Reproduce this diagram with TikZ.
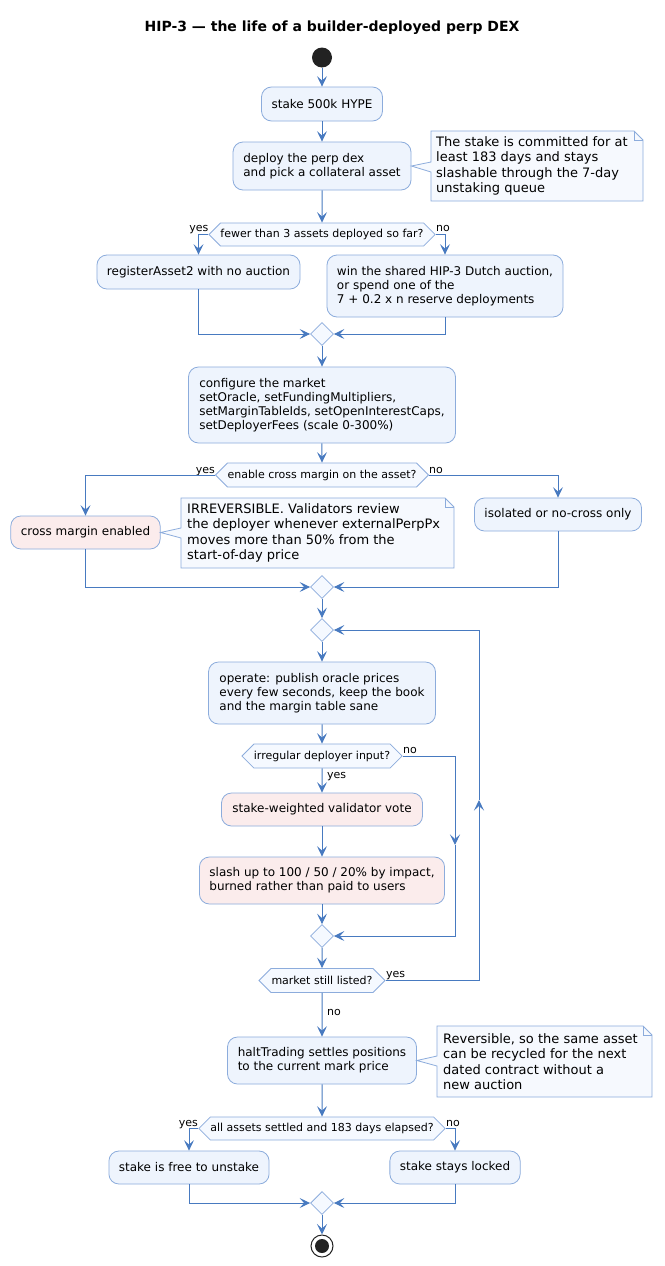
\documentclass[tikz,border=0pt]{standalone}
\usepackage{fontspec}
\setmainfont{DejaVu Sans}
\usetikzlibrary{arrows.meta,shapes.geometric,shapes.symbols}
\definecolor{arrc}{RGB}{72,122,192}
\definecolor{bbord}{RGB}{140,172,220}
\definecolor{bfill}{RGB}{238,244,253}
\definecolor{pfill}{RGB}{251,236,236}
\definecolor{nfill}{RGB}{246,249,254}
\definecolor{hfill}{RGB}{245,249,255}
\definecolor{dotc}{RGB}{34,34,34}
\tikzset{
  box/.style={draw=bbord, fill=bfill, line width=0.8pt, rounded corners=10pt,
    align=left, inner xsep=10pt, inner ysep=0pt, font=\fontsize{12}{14}\selectfont},
  pinkbox/.style={box, fill=pfill},
  hexa/.style={signal, signal to=west and east, draw=bbord, fill=hfill, line width=0.8pt,
    inner xsep=0pt, inner ysep=0pt, font=\fontsize{11}{13}\selectfont},
  merge/.style={diamond, draw=bbord, fill=hfill, line width=0.8pt, inner sep=0pt,
    minimum width=23pt, minimum height=23pt},
  arr/.style={draw=arrc, line width=1pt, -{Stealth[length=10.5pt,width=10pt,inset=4.5pt]}},
  notebg/.style={draw=bbord, fill=nfill, line width=0.8pt},
  notetxt/.style={align=left, inner sep=0pt, font=\fontsize{13}{15.3}\selectfont},
  lbl/.style={inner sep=0pt, font=\fontsize{11}{13}\selectfont},
}
\begin{document}
\begin{tikzpicture}[x=1pt,y=-1pt]
\useasboundingbox[fill=white] (0,0) rectangle (664,1266);

\node[font=\bfseries\fontsize{14}{16}\selectfont] (title) at (332,28) {HIP-3 — the life of a builder-deployed perp DEX};

\node[circle, fill=dotc, minimum size=20pt, inner sep=0pt] (start) at (322,57.5) {};
\node[box, minimum width=121pt, minimum height=34pt] (A) at (322,104) {stake 500k HYPE};
\node[box, minimum width=178pt, minimum height=48pt] (B) at (322,166) {deploy the perp dex\\and pick a collateral asset};

\draw[notebg] (431,131) -- (634,131) -- (643,140) -- (643,201) -- (431,201) -- (431,172) -- (B.east) -- (431,162) -- cycle;
\draw[notebg, fill=none] (634,131) -- (634,140) -- (643,140);
\node[notetxt, anchor=west] (n1) at (436,166) {The stake is committed for at\\least 183 days and stays\\slashable through the 7-day\\unstaking queue};

\node[hexa, minimum width=225pt, minimum height=23pt] (h1) at (322,234.5) {fewer than 3 assets deployed so far?};
\node[lbl, anchor=base east] (h1y) at (208.5,231) {yes};
\node[lbl, anchor=base west] (h1n) at (436,231) {no};

\node[box, minimum width=201pt, minimum height=34pt] (C) at (198.5,272) {registerAsset2 with no auction};
\node[box, minimum width=236pt, minimum height=62pt] (D) at (445,286) {win the shared HIP-3 Dutch auction,\\or spend one of the\\7 + 0.2 x n reserve deployments};
\node[merge] (m1) at (322,334) {};
\node[box, minimum width=267pt, minimum height=76pt] (E) at (322,405) {configure the market\\setOracle, setFundingMultipliers,\\setMarginTableIds, setOpenInterestCaps,\\setDeployerFees (scale 0-300\%)};

\node[hexa, minimum width=212pt, minimum height=24pt] (h2) at (322,475) {enable cross margin on the asset?};
\node[lbl, anchor=base east] (h2y) at (215,473) {yes};
\node[lbl, anchor=base west] (h2n) at (429,473) {no};

\node[pinkbox, minimum width=149pt, minimum height=33pt] (F) at (85.5,532.5) {cross margin enabled};
\node[box, minimum width=165pt, minimum height=33pt] (G) at (558,514.5) {isolated or no-cross only};

\draw[notebg] (181,498) -- (445,498) -- (454,507) -- (454,568) -- (181,568) -- (181,538) -- (F.east) -- (181,528) -- cycle;
\draw[notebg, fill=none] (445,498) -- (445,507) -- (454,507);
\node[notetxt, anchor=west] (n2) at (187,533) {IRREVERSIBLE. Validators review\\the deployer whenever externalPerpPx\\moves more than 50\% from the\\start-of-day price};

\node[merge] (m2) at (322,587) {};
\node[merge] (m3) at (322,630) {};
\node[box, minimum width=227pt, minimum height=62pt] (H) at (322,693) {operate: publish oracle prices\\every few seconds, keep the book\\and the margin table sane};

\node[hexa, minimum width=160pt, minimum height=24pt] (h3) at (322,756) {irregular deployer input?};
\node[lbl, anchor=base west] (h3n) at (403,753) {no};
\node[lbl, anchor=base west] (h3y) at (327,778) {yes};

\node[pinkbox, minimum width=201pt, minimum height=33pt] (I) at (322,809.5) {stake-weighted validator vote};
\node[pinkbox, minimum width=245pt, minimum height=47pt] (J) at (322,880.5) {slash up to 100 / 50 / 20\% by impact,\\burned rather than paid to users};
\node[merge] (m4) at (322,936) {};

\node[hexa, minimum width=126pt, minimum height=24pt] (h4) at (322,980.5) {market still listed?};
\node[lbl, anchor=base west] (h4y) at (386,977) {yes};
\node[lbl, anchor=base west] (h4n) at (327,1015) {no};

\node[box, minimum width=189pt, minimum height=47pt] (K) at (322,1060.5) {haltTrading settles positions\\to the current mark price};
\draw[notebg] (437,1026) -- (643,1026) -- (652,1035) -- (652,1097) -- (437,1097) -- (437,1066) -- (K.east) -- (437,1056) -- cycle;
\draw[notebg, fill=none] (643,1026) -- (643,1035) -- (652,1035);
\node[notetxt, anchor=west] (n3) at (443,1061.5) {Reversible, so the same asset\\can be recycled for the next\\dated contract without a\\new auction};

\node[hexa, minimum width=246pt, minimum height=23pt] (h5) at (322,1128.5) {all assets settled and 183 days elapsed?};
\node[lbl, anchor=base east] (h5y) at (198,1126) {yes};
\node[lbl, anchor=base west] (h5n) at (446,1126) {no};

\node[box, minimum width=160pt, minimum height=33pt] (L) at (189,1167.5) {stake is free to unstake};
\node[box, minimum width=130pt, minimum height=33pt] (M) at (455,1167.5) {stake stays locked};
\node[merge] (m5) at (322,1203) {};

\node[circle, draw=dotc, line width=1pt, minimum size=22pt, inner sep=0pt] (end) at (322,1246) {};
\node[circle, fill=dotc, minimum size=14pt, inner sep=0pt] (endin) at (end.center) {};

% connectors
\draw[arr] (start) -- (A);
\draw[arr] (A) -- (B);
\draw[arr] (B) -- (h1);
\draw[arr] (h1.west) -| (C.north);
\draw[arr] (h1.east) -| (D.north);
\draw[arr] (C.south) |- (m1.west);
\draw[arr] (D.south) |- (m1.east);
\draw[arr] (m1) -- (E);
\draw[arr] (E) -- (h2);
\draw[arr] (h2.west) -| (F.north);
\draw[arr] (h2.east) -| (G.north);
\draw[arr] (F.south) |- (m2.west);
\draw[arr] (G.south) |- (m2.east);
\draw[arr] (m2) -- (m3);
\draw[arr] (m3) -- (H);
\draw[arr] (H) -- (h3);
\draw[arr] (h3) -- (I);
\draw[arr] (I) -- (J);
\draw[arr] (J) -- (m4);
\coordinate (nb) at (455,845);
\draw[arr] (h3.east) -| (nb);
\draw[arr] (nb) |- (m4.east);
\draw[arr] (m4) -- (h4);
\coordinate (lp) at (479,800);
\draw[arr] (h4.east) -| (lp);
\draw[arr] (lp) |- (m3.east);
\draw[arr] (h4) -- (K);
\draw[arr] (K) -- (h5);
\draw[arr] (h5.west) -| (L.north);
\draw[arr] (h5.east) -| (M.north);
\draw[arr] (L.south) |- (m5.west);
\draw[arr] (M.south) |- (m5.east);
\draw[arr] (m5) -- (end);
\end{tikzpicture}
\end{document}
